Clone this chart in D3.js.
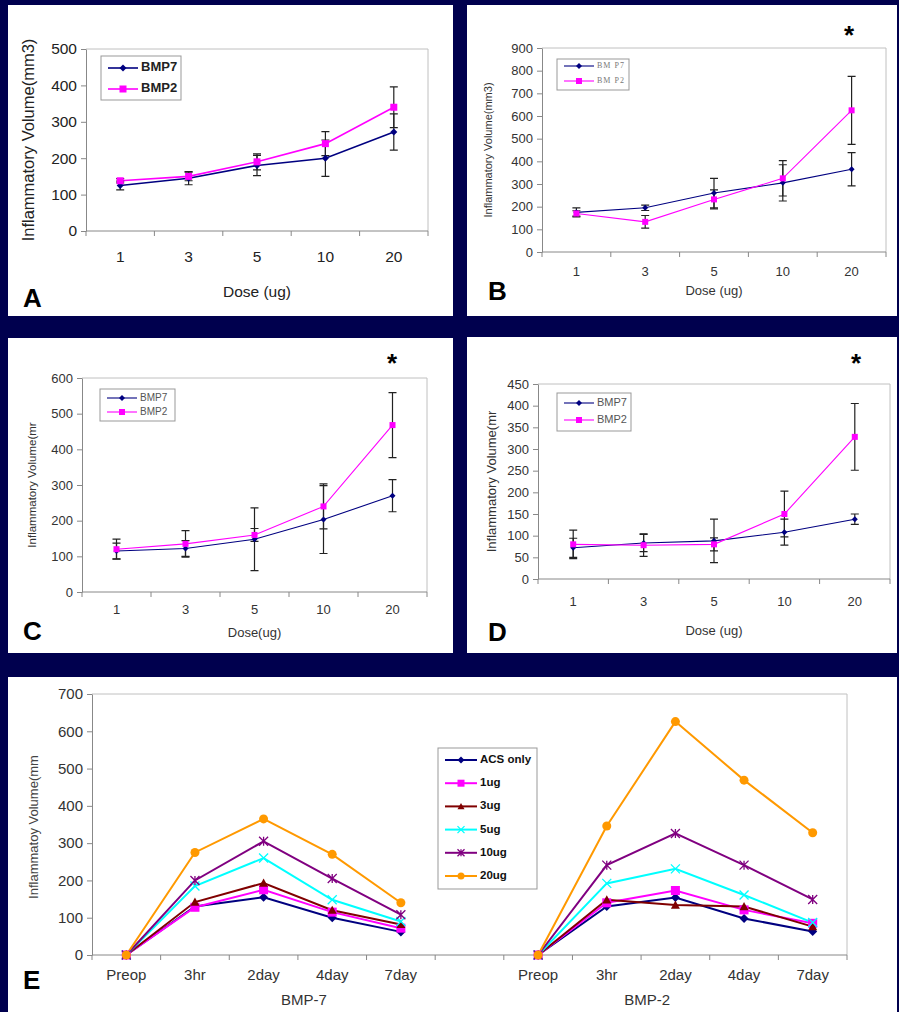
<!DOCTYPE html>
<html>
<head>
<meta charset="utf-8">
<script src="https://cdn.jsdelivr.net/npm/d3@7"></script>
<style>
  body { margin: 0; background: #00004e; }
  svg { display: block; font-family: "Liberation Sans", Arial, sans-serif; }
</style>
</head>
<body>
<div id="top_div"></div>
<script>
// ---- data ----
var doses = ['1', '3', '5', '10', '20'];

var bmp7A = [125, 145, 180, 200, 272];
var bmp7AErr = [12, 18, 28, 50, 50];
var bmp2A = [138, 150, 190, 240, 340];
var bmp2AErr = [6, 12, 22, 33, 56];

var bmp7B = [175, 195, 260, 305, 365];
var bmp7BErr = [20, 12, 65, 80, 73];
var bmp2B = [170, 133, 232, 325, 625];
var bmp2BErr = [12, 28, 42, 78, 150];

var bmp7C = [115, 122, 148, 203, 270];
var bmp7CErr = [22, 22, 88, 95, 45];
var bmp2C = [120, 135, 160, 240, 468];
var bmp2CErr = [28, 37, 18, 63, 91];

var bmp7D = [72, 83, 88, 108, 138];
var bmp7DErr = [22, 20, 50, 30, 12];
var bmp2D = [80, 78, 80, 150, 328];
var bmp2DErr = [33, 26, 15, 53, 77];

var times = ['Preop', '3hr', '2day', '4day', '7day'];
var groups = ['BMP-7', 'BMP-2'];
var eSeries = ['ACS only', '1ug', '3ug', '5ug', '10ug', '20ug'];
var bmp7Time = [
  [0, 130, 155, 100, 62],
  [0, 128, 175, 115, 72],
  [0, 142, 193, 120, 82],
  [0, 185, 260, 148, 90],
  [0, 200, 305, 205, 108],
  [0, 275, 365, 270, 140]
];
var bmp2Time = [
  [0, 130, 154, 98, 63],
  [0, 140, 173, 121, 85],
  [0, 148, 134, 130, 76],
  [0, 192, 231, 161, 87],
  [0, 241, 326, 241, 149],
  [0, 346, 626, 469, 328]
];

// ---- drawing ----
var W = 899, H = 1012;
var navy = '#000080', magenta = '#ff00ff';
var eColors = ['#000080', '#ff00ff', '#800000', '#00ffff', '#800080', '#ff9900'];
var eShapes = ['diamond', 'square', 'triangle', 'x', 'star', 'circle'];

var vis = d3.select('#top_div')
  .append('svg')
    .attr('width', W)
    .attr('height', H);

vis.append('rect').attr('width', W).attr('height', H).attr('fill', '#00004e');

function marker(g, shape, x, y, size, color) {
  var s = size / 2;
  if (shape == 'diamond') {
    g.append('path').attr('d', 'M' + x + ',' + (y - s) + 'L' + (x + s) + ',' + y + 'L' + x + ',' + (y + s) + 'L' + (x - s) + ',' + y + 'Z')
      .attr('fill', color);
  } else if (shape == 'square') {
    g.append('rect').attr('x', x - s).attr('y', y - s).attr('width', size).attr('height', size).attr('fill', color);
  } else if (shape == 'triangle') {
    g.append('path').attr('d', 'M' + x + ',' + (y - s) + 'L' + (x + s) + ',' + (y + s * 0.8) + 'L' + (x - s) + ',' + (y + s * 0.8) + 'Z')
      .attr('fill', color);
  } else if (shape == 'circle') {
    g.append('circle').attr('cx', x).attr('cy', y).attr('r', s).attr('fill', color);
  } else {
    var d = 'M' + (x - s) + ',' + (y - s) + 'L' + (x + s) + ',' + (y + s) + 'M' + (x + s) + ',' + (y - s) + 'L' + (x - s) + ',' + (y + s);
    if (shape == 'star') d += 'M' + x + ',' + (y - s) + 'L' + x + ',' + (y + s);
    g.append('path').attr('d', d).attr('stroke', color).attr('stroke-width', 1.3).attr('fill', 'none');
  }
}

// panels A-D
var panels = [
  { id: 'A', box: [8, 5, 445, 311], plot: [86, 49, 428, 231], yMax: 500, yStep: 100,
    s7: bmp7A, e7: bmp7AErr, s2: bmp2A, e2: bmp2AErr, star: false,
    tick: 15.5, tickColor: '#222', xlabY: 262, xTitle: 'Dose (ug)', xTitleY: 297, title: 'Inflammatory Volume(mm3)',
    titleX: 30, titleSize: 16.5, letter: [23, 307],
    legend: [101, 56, 80, 44], legY: [68, 89], legSize: 13, legBold: true, legColor: '#222', lw: 1.6, mk: 7 },
  { id: 'B', box: [467, 5, 430, 311], plot: [542, 48, 886, 252], yMax: 900, yStep: 100,
    s7: bmp7B, e7: bmp7BErr, s2: bmp2B, e2: bmp2BErr, star: [849, 44],
    tick: 13, tickColor: '#333', xlabY: 276, xTitle: 'Dose (ug)', xTitleY: 295, title: 'Inflammatory Volume(mm3)',
    titleX: 489, titleSize: 11, letter: [488, 300],
    legend: [557, 59, 72, 31], legY: [66, 81], legSize: 8, legBold: false, legColor: '#777', serif: true, lw: 1.1, mk: 6 },
  { id: 'C', box: [8, 338, 445, 315], plot: [82, 378, 427, 592], yMax: 600, yStep: 100,
    s7: bmp7C, e7: bmp7CErr, s2: bmp2C, e2: bmp2CErr, star: [392, 372],
    tick: 13, tickColor: '#333', xlabY: 614, xTitle: 'Dose(ug)', xTitleY: 637, title: 'Inflammatory Volume(mr',
    titleX: 33, titleSize: 11.5, letter: [23, 640],
    legend: [100, 389, 75, 32], legY: [398, 412], legSize: 10, legBold: false, legColor: '#555', lw: 1.1, mk: 6 },
  { id: 'D', box: [467, 337, 430, 316], plot: [538, 384, 890, 579], yMax: 450, yStep: 50,
    s7: bmp7D, e7: bmp7DErr, s2: bmp2D, e2: bmp2DErr, star: [856, 372],
    tick: 13, tickColor: '#333', xlabY: 606, xTitle: 'Dose (ug)', xTitleY: 635, title: 'Inflammatory Volume(mr',
    titleX: 493, titleSize: 13, letter: [488, 641],
    legend: [557, 393, 74, 38], legY: [403, 420], legSize: 11, legBold: false, legColor: '#555', lw: 1.1, mk: 6 }
];

panels.forEach(function(p) {
  var g = vis.append('g').attr('class', 'panel-' + p.id);
  g.append('rect').attr('x', p.box[0]).attr('y', p.box[1]).attr('width', p.box[2]).attr('height', p.box[3]).attr('fill', '#fff');

  var x = d3.scaleBand().domain(doses).range([p.plot[0], p.plot[2]]);
  var y = d3.scaleLinear().domain([0, p.yMax]).range([p.plot[3], p.plot[1]]);

  // frame
  g.append('path')
    .attr('d', 'M' + p.plot[0] + ',' + p.plot[1] + 'H' + p.plot[2] + 'V' + p.plot[3])
    .attr('stroke', '#c0c0c0').attr('fill', 'none');

  var yAxis = g.append('g')
    .attr('transform', 'translate(' + p.plot[0] + ',0)')
    .call(d3.axisLeft(y).tickValues(d3.range(0, p.yMax + 1, p.yStep)).tickSize(5).tickPadding(4).tickSizeOuter(0));
  yAxis.selectAll('path,line').attr('stroke', '#888');
  yAxis.selectAll('text').attr('font-size', p.tick).attr('fill', p.tickColor).attr('font-family', 'inherit');

  g.append('line').attr('x1', p.plot[0]).attr('x2', p.plot[2]).attr('y1', p.plot[3]).attr('y2', p.plot[3]).attr('stroke', '#888');
  g.selectAll('.xt').data(doses.concat(['end'])).enter().append('line')
    .attr('x1', (d) => d == 'end' ? p.plot[2] : x(d))
    .attr('x2', (d) => d == 'end' ? p.plot[2] : x(d))
    .attr('y1', p.plot[3]).attr('y2', p.plot[3] + 5).attr('stroke', '#888');
  g.selectAll('.xl').data(doses).enter().append('text')
    .text((d) => d)
    .attr('x', (d) => x(d) + x.bandwidth() / 2)
    .attr('y', p.xlabY)
    .attr('text-anchor', 'middle').attr('font-size', p.tick).attr('fill', p.tickColor);

  g.append('text').text(p.xTitle)
    .attr('x', (p.plot[0] + p.plot[2]) / 2).attr('y', p.xTitleY)
    .attr('text-anchor', 'middle').attr('font-size', p.tick).attr('fill', p.tickColor);
  g.append('text').text(p.title)
    .attr('transform', 'translate(' + p.titleX + ',' + ((p.plot[1] + p.plot[3]) / 2) + ') rotate(-90)')
    .attr('text-anchor', 'middle').attr('dominant-baseline', 'middle')
    .attr('font-size', p.titleSize).attr('fill', p.tickColor);
  g.append('text').text(p.id)
    .attr('x', p.letter[0]).attr('y', p.letter[1])
    .attr('font-size', 26).attr('font-weight', 'bold').attr('fill', '#000');
  if (p.star) {
    g.append('text').text('*').attr('x', p.star[0]).attr('y', p.star[1])
      .attr('text-anchor', 'middle').attr('font-size', 26).attr('font-weight', 'bold');
  }

  var cx = (d, i) => x(doses[i]) + x.bandwidth() / 2;
  var line = d3.line().x((d, i) => cx(d, i)).y((d) => y(d));
  g.append('path').datum(p.s7).attr('d', line).attr('stroke', navy).attr('stroke-width', p.lw).attr('fill', 'none');
  g.append('path').datum(p.s2).attr('d', line).attr('stroke', magenta).attr('stroke-width', p.lw).attr('fill', 'none');

  [[p.s7, p.e7], [p.s2, p.e2]].forEach(function(se) {
    se[0].forEach(function(v, i) {
      var xx = cx(v, i), lo = y(v - se[1][i]), hi = y(v + se[1][i]);
      g.append('path')
        .attr('d', 'M' + xx + ',' + lo + 'V' + hi + 'M' + (xx - 4) + ',' + lo + 'H' + (xx + 4) + 'M' + (xx - 4) + ',' + hi + 'H' + (xx + 4))
        .attr('stroke', '#222').attr('stroke-width', 1.2).attr('fill', 'none');
    });
  });
  p.s7.forEach((v, i) => marker(g, 'diamond', cx(v, i), y(v), p.mk, navy));
  p.s2.forEach((v, i) => marker(g, 'square', cx(v, i), y(v), p.mk, magenta));

  // legend
  var L = p.legend;
  g.append('rect').attr('x', L[0]).attr('y', L[1]).attr('width', L[2]).attr('height', L[3])
    .attr('fill', '#fff').attr('stroke', '#999');
  [['BMP7', navy, 'diamond'], ['BMP2', magenta, 'square']].forEach(function(e, k) {
    var ly = p.legY[k];
    g.append('line').attr('x1', L[0] + 7).attr('x2', L[0] + 37).attr('y1', ly).attr('y2', ly).attr('stroke', e[1]).attr('stroke-width', p.lw);
    marker(g, e[2], L[0] + 22, ly, p.mk, e[1]);
    g.append('text').text(p.serif ? e[0].replace('BM', 'BM ') : e[0])
      .attr('x', L[0] + 40).attr('y', ly).attr('dominant-baseline', 'middle')
      .attr('font-size', p.legSize).attr('font-weight', p.legBold ? 'bold' : 'normal')
      .attr('font-family', p.serif ? '"Liberation Serif", serif' : 'inherit')
      .attr('letter-spacing', p.serif ? 1 : 0)
      .attr('fill', p.legColor);
  });
});

// panel E
var gE = vis.append('g').attr('class', 'panel-E');
gE.append('rect').attr('x', 8).attr('y', 677).attr('width', 889).attr('height', 335).attr('fill', '#fff');
var plotE = [92, 694, 847, 955];
var keysE = times.map((t) => 'L' + t).concat(['gap']).concat(times.map((t) => 'R' + t));
var xE = d3.scaleBand().domain(keysE).range([plotE[0], plotE[2]]);
var yE = d3.scaleLinear().domain([0, 700]).range([plotE[3], plotE[1]]);

gE.append('path')
  .attr('d', 'M' + plotE[0] + ',' + plotE[1] + 'H' + plotE[2] + 'V' + plotE[3])
  .attr('stroke', '#c0c0c0').attr('fill', 'none');
var yAxE = gE.append('g')
  .attr('transform', 'translate(' + plotE[0] + ',0)')
  .call(d3.axisLeft(yE).tickValues(d3.range(0, 701, 100)).tickSize(5).tickPadding(4).tickSizeOuter(0));
yAxE.selectAll('path,line').attr('stroke', '#888');
yAxE.selectAll('text').attr('font-size', 15).attr('fill', '#333').attr('font-family', 'inherit');
gE.append('line').attr('x1', plotE[0]).attr('x2', plotE[2]).attr('y1', plotE[3]).attr('y2', plotE[3]).attr('stroke', '#888');
gE.selectAll('.xt').data(keysE.concat(['end'])).enter().append('line')
  .attr('x1', (d) => d == 'end' ? plotE[2] : xE(d))
  .attr('x2', (d) => d == 'end' ? plotE[2] : xE(d))
  .attr('y1', plotE[3]).attr('y2', plotE[3] + 5).attr('stroke', '#888');
gE.selectAll('.xl').data(keysE.filter((k) => k != 'gap')).enter().append('text')
  .text((d) => d.slice(1))
  .attr('x', (d) => xE(d) + xE.bandwidth() / 2)
  .attr('y', 980)
  .attr('text-anchor', 'middle').attr('font-size', 15).attr('fill', '#333');
gE.selectAll('.gl').data(groups).enter().append('text')
  .text((d) => d)
  .attr('x', (d, i) => i == 0 ? xE('L4day') + 6 : xE('R2day') + 6)
  .attr('y', 1005)
  .attr('text-anchor', 'middle').attr('font-size', 15).attr('fill', '#333');
gE.append('text').text('Inflammatoy Volume(mm')
  .attr('transform', 'translate(35,827) rotate(-90)')
  .attr('text-anchor', 'middle').attr('dominant-baseline', 'middle')
  .attr('font-size', 13).attr('fill', '#444');
gE.append('text').text('E').attr('x', 23).attr('y', 989)
  .attr('font-size', 26).attr('font-weight', 'bold');

var cxE = (prefix, i) => xE(prefix + times[i]) + xE.bandwidth() / 2;
[['L', bmp7Time], ['R', bmp2Time]].forEach(function(grp) {
  grp[1].forEach(function(vals, s) {
    var line = d3.line().x((d, i) => cxE(grp[0], i)).y((d) => yE(d));
    gE.append('path').datum(vals).attr('d', line)
      .attr('stroke', eColors[s]).attr('stroke-width', 2).attr('fill', 'none');
  });
  grp[1].forEach(function(vals, s) {
    vals.forEach((v, i) => marker(gE, eShapes[s], cxE(grp[0], i), yE(v), 9, eColors[s]));
  });
});

// legend E
gE.append('rect').attr('x', 438).attr('y', 748).attr('width', 99).attr('height', 141)
  .attr('fill', '#fff').attr('stroke', '#999');
eSeries.forEach(function(name, s) {
  var ly = 760 + s * 23.2;
  gE.append('line').attr('x1', 445).attr('x2', 477).attr('y1', ly).attr('y2', ly)
    .attr('stroke', eColors[s]).attr('stroke-width', 2);
  marker(gE, eShapes[s], 461, ly, 7, eColors[s]);
  gE.append('text').text(name).attr('x', 480).attr('y', ly)
    .attr('dominant-baseline', 'middle').attr('font-size', 11.5).attr('font-weight', 'bold').attr('fill', '#111');
});
</script>
</body>
</html>
